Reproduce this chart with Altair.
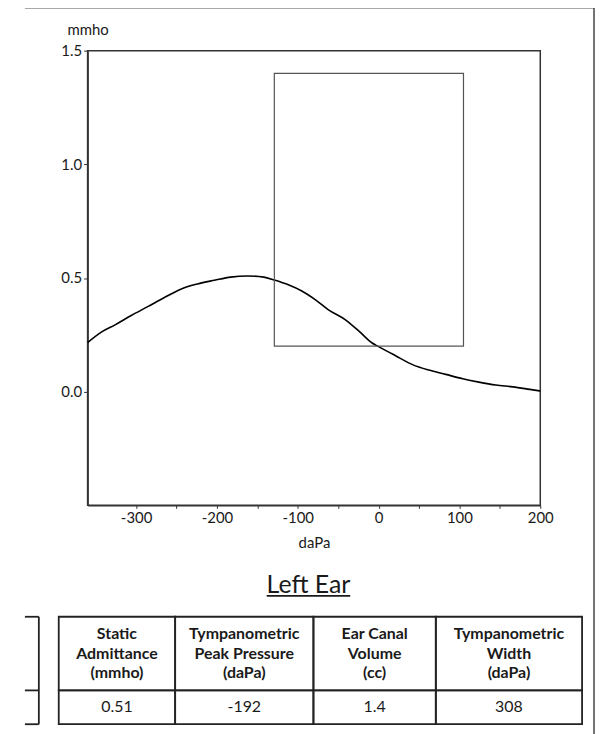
import altair as alt
import pandas as pd

# ---------------- data ----------------
# tympanogram (pressure in daPa, admittance in mmho)
pressure = [-360, -343, -326, -306, -285, -265, -244, -224, -203, -183, -162, -142,
            -129, -111, -95, -78, -62, -41, -24, -8, 0, 21, 42, 62, 83, 104, 124,
            145, 166, 187, 200]
admittance = [0.216, 0.262, 0.294, 0.335, 0.375, 0.414, 0.452, 0.474, 0.490, 0.504,
              0.509, 0.504, 0.491, 0.469, 0.443, 0.404, 0.360, 0.316, 0.265, 0.214,
              0.198, 0.158, 0.119, 0.095, 0.076, 0.057, 0.042, 0.029, 0.021, 0.010,
              0.003]

# normative box
box_pressure = [-129, 105]
box_admittance = [0.2, 1.4]

# axis ticks
x_ticks = [-300, -250, -200, -150, -100, -50, 0, 50, 100, 150, 200]
y_ticks = [0.0, 0.5, 1.0, 1.5]

# results table
table_title = "Left Ear"
headers = ["Static\nAdmittance\n(mmho)",
           "Tympanometric\nPeak Pressure\n(daPa)",
           "Ear Canal\nVolume\n(cc)",
           "Tympanometric\nWidth\n(daPa)"]
values = ["0.51", "-192", "1.4", "308"]

# ---------------- layout (pixels, relative to each panel's origin) ----------------
FONT = "Lato"
INK = "#1a1a1a"
PLOT_W, PLOT_H = 455, 457
GAP = 67                    # plot bottom -> table panel top
TAB_H = 153
COL_W = [117, 139, 123, 147]
TABLE_X0 = -29
ROW_Y = [45, 119, 153]
PARTIAL_X = [-63, -49]
DOC_LEFT, DOC_RIGHT, RULE_X = -63, 509.5, 509

one = pd.DataFrame({"k": [0]})

# ---------------- plot ----------------
curve_df = pd.DataFrame({"pressure": pressure, "admittance": admittance})
box_df = pd.DataFrame({"p0": [box_pressure[0]], "p1": [box_pressure[1]],
                       "a0": [box_admittance[0]], "a1": [box_admittance[1]]})

xscale = alt.Scale(domain=[-360, 200], nice=False, zero=False)
yscale = alt.Scale(domain=[-0.5, 1.5], nice=False, zero=False)

x_axis = alt.Axis(values=x_ticks,
                  labelExpr="datum.value % 100 === 0 ? '' + datum.value : ''",
                  tickSize=3, labelPadding=2, labelFont=FONT, labelFontSize=15,
                  labelColor=INK, labelOverlap=False, labelFlush=False,
                  title="daPa", titleFont=FONT, titleFontSize=15,
                  titleFontWeight="normal", titleColor=INK, titleY=42,
                  titleBaseline="alphabetic", domainColor="#333", domainWidth=1.5,
                  tickColor="#333", grid=False)
y_axis = alt.Axis(values=y_ticks, format=".1f", tickSize=4, labelPadding=2,
                  labelFont=FONT, labelFontSize=15, labelColor=INK,
                  labelOverlap=False, labelFlush=False,
                  title="mmho", titleAngle=0, titleX=0, titleY=-16,
                  titleAlign="center", titleBaseline="alphabetic",
                  titleFont=FONT, titleFontSize=15, titleFontWeight="normal",
                  titleColor=INK, domainColor="#333", domainWidth=1.5,
                  tickColor="#333", grid=False)

curve = alt.Chart(curve_df).mark_line(
    color="black", strokeWidth=1.6, interpolate="monotone"
).encode(
    x=alt.X("pressure:Q", scale=xscale, axis=x_axis, title="daPa"),
    y=alt.Y("admittance:Q", scale=yscale, axis=y_axis, title="mmho"),
)

box = alt.Chart(box_df).mark_rect(
    fill="transparent", stroke="#555", strokeWidth=1.2
).encode(
    x=alt.X("p0:Q", scale=xscale, title="daPa"), x2="p1",
    y=alt.Y("a0:Q", scale=yscale, title="mmho"), y2="a1",
)

# page border of the scanned sheet (top edge and right edge)
top_rule = alt.Chart(one).mark_rule(color="#555", strokeWidth=1.5).encode(
    x=alt.value(DOC_LEFT), x2=alt.value(DOC_RIGHT), y=alt.value(-43))
right_rule = alt.Chart(one).mark_rule(color="#444", strokeWidth=1.5).encode(
    x=alt.value(RULE_X), y=alt.value(-43), y2=alt.value(PLOT_H + GAP + TAB_H + 15))

plot = alt.layer(curve, box, top_rule, right_rule).properties(
    width=PLOT_W, height=PLOT_H,
    view=alt.ViewBackground(stroke="#333", strokeWidth=1.5),
)

# ---------------- table ----------------
cells = []
x = TABLE_X0
for h, v, w in zip(headers, values, COL_W):
    cells.append(dict(x0=x, x1=x + w, y0=ROW_Y[0], y1=ROW_Y[1], text=h, kind="header"))
    cells.append(dict(x0=x, x1=x + w, y0=ROW_Y[1], y1=ROW_Y[2], text=v, kind="value"))
    x += w
cells_df = pd.DataFrame(cells)
cells_df["xc"] = (cells_df["x0"] + cells_df["x1"]) / 2
cells_df["yc"] = (cells_df["y0"] + cells_df["y1"]) / 2

px0, px1 = PARTIAL_X
partial_df = pd.DataFrame({
    "x0": [px0, px0, px0, px1],
    "x1": [px1, px1, px1, px1],
    "y0": [ROW_Y[0], ROW_Y[1], ROW_Y[2], ROW_Y[0]],
    "y1": [ROW_Y[0], ROW_Y[1], ROW_Y[2], ROW_Y[2]],
})

txs = alt.Scale(domain=[0, PLOT_W], nice=False, zero=False)
tys = alt.Scale(domain=[0, TAB_H], nice=False, zero=False, reverse=True)

grid = alt.Chart(cells_df).mark_rect(
    fill="transparent", stroke="#222", strokeWidth=1.8
).encode(
    x=alt.X("x0:Q", scale=txs, axis=None), x2="x1",
    y=alt.Y("y0:Q", scale=tys, axis=None), y2="y1",
)
partial = alt.Chart(partial_df).mark_rule(color="#222", strokeWidth=1.8).encode(
    x=alt.X("x0:Q", scale=txs, axis=None), x2="x1",
    y=alt.Y("y0:Q", scale=tys, axis=None), y2="y1",
)
head_text = alt.Chart(cells_df).transform_filter(
    alt.datum.kind == "header"
).mark_text(
    font=FONT, fontSize=16, fontWeight="bold", lineBreak="\n", lineHeight=20,
    baseline="middle", align="center", color=INK, dy=-20,
).encode(
    x=alt.X("xc:Q", scale=txs, axis=None),
    y=alt.Y("yc:Q", scale=tys, axis=None),
    text="text:N",
)
val_text = alt.Chart(cells_df).transform_filter(
    alt.datum.kind == "value"
).mark_text(
    font=FONT, fontSize=16, baseline="middle", align="center", color=INK,
).encode(
    x=alt.X("xc:Q", scale=txs, axis=None),
    y=alt.Y("yc:Q", scale=tys, axis=None),
    text="text:N",
)
title_text = alt.Chart(pd.DataFrame({"t": [table_title]})).mark_text(
    font=FONT, fontSize=25, baseline="alphabetic", align="center", color=INK,
).encode(x=alt.value(222), y=alt.value(21), text="t:N")
underline = alt.Chart(one).mark_rule(color=INK, strokeWidth=2).encode(
    x=alt.value(180), x2=alt.value(264), y=alt.value(24))

table = alt.layer(grid, partial, head_text, val_text, title_text,
                  underline).properties(
    width=PLOT_W, height=TAB_H,
    view=alt.ViewBackground(stroke="transparent"),
)

chart = alt.vconcat(plot, table, spacing=GAP, bounds="flush").properties(
    padding={"left": 15, "top": -4, "right": 0, "bottom": 0},
).configure(font=FONT).configure_view(stroke="transparent")

chart.save("out.html", embed_options={"renderer": "svg", "actions": False})
